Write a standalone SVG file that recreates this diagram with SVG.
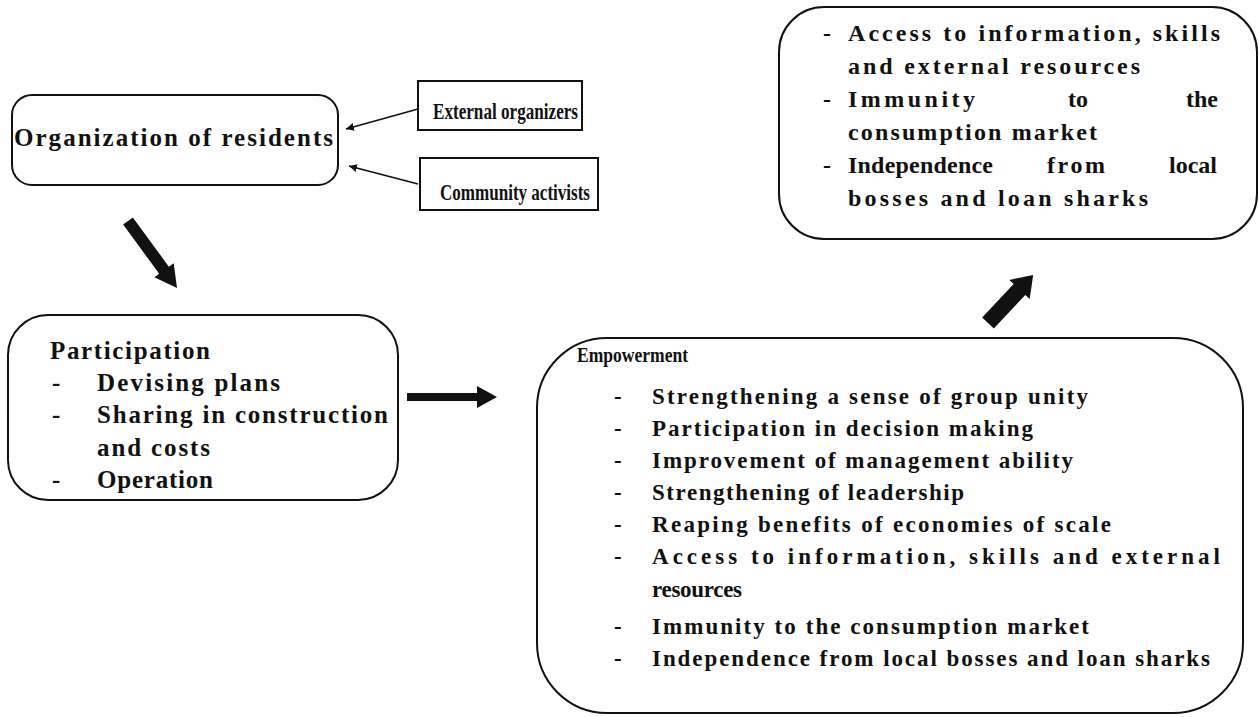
<svg xmlns="http://www.w3.org/2000/svg" width="1259" height="717" viewBox="0 0 1259 717">
<style>
.box{fill:none;stroke:#111;stroke-width:2}
.t{font-family:"Liberation Serif","Times New Roman","DejaVu Serif",serif;font-weight:bold;fill:#111;font-size:25px}
.s{font-size:24px}
.r{font-size:24px}
.e{font-size:23px}
.h{font-size:22px}
.thin{stroke:#111;stroke-width:1.6;fill:none}
.fat{fill:#111}
</style>
<defs>
<marker id="ah" viewBox="0 0 10 10" refX="10" refY="5" markerWidth="8" markerHeight="8" markerUnits="userSpaceOnUse" orient="auto">
<path d="M0,0 L10,5 L0,10 Z" fill="#111"/>
</marker>
</defs>
<rect width="1259" height="717" fill="#fff"/>

<g id="org">
<rect class="box" x="12" y="95" width="326" height="90" rx="20"/>
<text class="t" x="14" y="146" textLength="319" lengthAdjust="spacing">Organization of residents</text>
</g>

<g id="external">
<rect class="box" x="418" y="81" width="164" height="49"/>
<text class="t s" x="433" y="119" textLength="145" lengthAdjust="spacingAndGlyphs">External organizers</text>
</g>

<g id="community">
<rect class="box" x="420" y="158" width="178" height="52"/>
<text class="t s" x="440" y="200" textLength="150" lengthAdjust="spacingAndGlyphs">Community activists</text>
</g>

<g id="participation">
<rect class="box" x="8" y="315" width="390" height="185" rx="40"/>
<text class="t" x="50" y="359" textLength="160" lengthAdjust="spacing">Participation</text>
<text class="t" x="52" y="391">-</text>
<text class="t" x="97" y="391" textLength="183" lengthAdjust="spacing">Devising plans</text>
<text class="t" x="52" y="423">-</text>
<text class="t" x="97" y="423" textLength="291" lengthAdjust="spacing">Sharing in construction</text>
<text class="t" x="97" y="456" textLength="113" lengthAdjust="spacing">and costs</text>
<text class="t" x="52" y="488">-</text>
<text class="t" x="97" y="488" textLength="116" lengthAdjust="spacing">Operation</text>
</g>

<g id="outcomes">
<rect class="box" x="779" y="7" width="478" height="232" rx="45"/>
<text class="t r" x="823" y="41">-</text>
<text class="t r" x="848" y="41" textLength="372" lengthAdjust="spacing">Access to information, skills</text>
<text class="t r" x="848" y="74" textLength="292" lengthAdjust="spacing">and external resources</text>
<text class="t r" x="823" y="107">-</text>
<text class="t r" x="848" y="107" textLength="127" lengthAdjust="spacing">Immunity</text>
<text class="t r" x="1078" y="107" text-anchor="middle">to</text>
<text class="t r" x="1218" y="107" text-anchor="end">the</text>
<text class="t r" x="848" y="140" textLength="249" lengthAdjust="spacing">consumption market</text>
<text class="t r" x="823" y="173">-</text>
<text class="t r" x="848" y="173" textLength="145" lengthAdjust="spacing">Independence</text>
<text class="t r" x="1047" y="173" textLength="58" lengthAdjust="spacing">from</text>
<text class="t r" x="1217" y="173" text-anchor="end">local</text>
<text class="t r" x="848" y="206" textLength="300" lengthAdjust="spacing">bosses and loan sharks</text>
</g>

<g id="empowerment">
<rect class="box" x="537" y="338" width="706" height="375" rx="70"/>
<text class="t h" x="577" y="362" textLength="111" lengthAdjust="spacingAndGlyphs">Empowerment</text>
<text class="t e" x="614" y="404">-</text>
<text class="t e" x="652" y="404" textLength="436" lengthAdjust="spacing">Strengthening a sense of group unity</text>
<text class="t e" x="614" y="436">-</text>
<text class="t e" x="652" y="436" textLength="381" lengthAdjust="spacing">Participation in decision making</text>
<text class="t e" x="614" y="468">-</text>
<text class="t e" x="652" y="468" textLength="421" lengthAdjust="spacing">Improvement of management ability</text>
<text class="t e" x="614" y="500">-</text>
<text class="t e" x="652" y="500" textLength="312" lengthAdjust="spacing">Strengthening of leadership</text>
<text class="t e" x="614" y="532">-</text>
<text class="t e" x="652" y="532" textLength="459" lengthAdjust="spacing">Reaping benefits of economies of scale</text>
<text class="t e" x="614" y="564">-</text>
<text class="t e" x="652" y="564" textLength="568" lengthAdjust="spacing">Access to information, skills and external</text>
<text class="t e" x="652" y="597" textLength="90" lengthAdjust="spacing">resources</text>
<text class="t e" x="614" y="634">-</text>
<text class="t e" x="652" y="634" textLength="437" lengthAdjust="spacing">Immunity to the consumption market</text>
<text class="t e" x="614" y="666">-</text>
<text class="t e" x="652" y="666" textLength="558" lengthAdjust="spacing">Independence from local bosses and loan sharks</text>
</g>

<g id="connectors">
<line class="thin" x1="418" y1="109" x2="346" y2="129" marker-end="url(#ah)"/>
<line class="thin" x1="418" y1="184" x2="349" y2="166" marker-end="url(#ah)"/>
<polygon class="fat" points="0,-6 61,-6 61,-12 83,0 61,12 61,6 0,6" transform="translate(128,221) rotate(53.8)"/>
<polygon class="fat" points="407,393 477,393 477,386 497,397 477,408 477,401 407,401"/>
<polygon class="fat" points="0,-8 46,-8 46,-14 66,0 46,14 46,8 0,8" transform="translate(988,323) rotate(-46.8)"/>
</g>
</svg>
